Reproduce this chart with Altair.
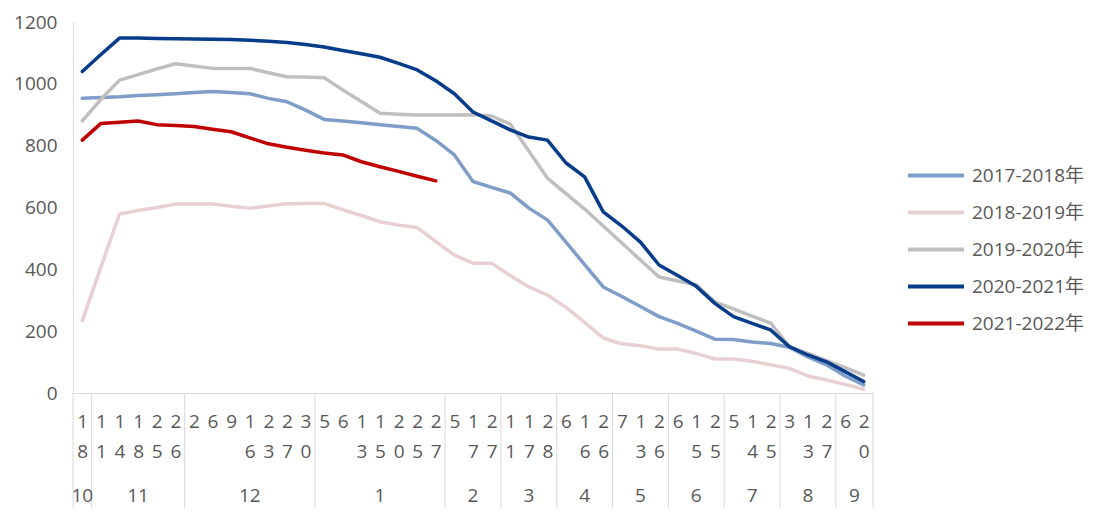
import json
import altair as alt
import pandas as pd

FONT = "Open Sans, Noto Sans CJK SC, sans-serif"
TXT = "#595959"
AXC = "#d9d9d9"

# category axis: month (lower row) and day (upper row) of each observation
cat_month = ["10",
             "11", "11", "11", "11", "11",
             "12", "12", "12", "12", "12", "12", "12",
             "1", "1", "1", "1", "1", "1", "1",
             "2", "2", "2",
             "3", "3", "3",
             "4", "4", "4",
             "5", "5", "5",
             "6", "6", "6",
             "7", "7", "7",
             "8", "8", "8",
             "9", "9"]
cat_day = ["18",
           "11", "14", "18", "25", "26",
           "2", "6", "9", "16", "23", "27", "30",
           "5", "6", "13", "15", "20", "25", "27",
           "5", "17", "27",
           "11", "17", "28",
           "6", "16", "26",
           "7", "13", "26",
           "6", "15", "25",
           "5", "14", "25",
           "3", "13", "27",
           "6", "20"]

series_names = ["2017-2018年", "2018-2019年", "2019-2020年", "2020-2021年", "2021-2022年"]
series_colors = ["#7f9dc8", "#e8d0d2", "#bfbfbf", "#063c8a", "#c00000"]

s_2017_2018 = [953, 956, 958, 962, 965, 968, 972, 975, 972, 968, 953, 942, 915, 885, 880,
               874, 868, 862, 856, 817, 770, 684, 665, 647, 598, 560, 488, 415, 343, 312,
               280, 247, 225, 200, 174, 173, 165, 160, 148, 117, 91, 55, 26]
s_2018_2019 = [234, 407, 579, 590, 600, 611, 611, 611, 604, 598, 605, 612, 613, 613, 593,
               574, 554, 543, 535, 490, 446, 420, 420, 380, 343, 317, 277, 228, 178, 159,
               153, 142, 142, 128, 110, 110, 103, 91, 80, 55, 42, 28, 12]
s_2019_2020 = [880, 950, 1012, 1030, 1048, 1065, 1058, 1050, 1050, 1050, 1036, 1023, 1022, 1020, 980,
               943, 905, 902, 899, 899, 899, 900, 896, 870, 783, 695, 645, 595, 540, 485,
               430, 375, 362, 350, 295, 272, 249, 226, 150, 128, 105, 82, 58]
s_2020_2021 = [1040, 1095, 1148, 1148, 1147, 1146, 1145, 1144, 1143, 1141, 1138, 1134, 1127, 1119, 1108,
               1097, 1086, 1066, 1045, 1010, 968, 909, 880, 851, 828, 818, 744, 699, 586, 540,
               488, 414, 380, 345, 290, 247, 225, 204, 150, 123, 101, 69, 37]
s_2021_2022 = [818, 872, 876, 880, 868, 865, 862, 853, 845, 825, 806, 795, 785, 776, 770,
               748, 732, 717, 701, 686]

y_ticks = [0, 200, 400, 600, 800, 1000, 1200]

series_values = [s_2017_2018, s_2018_2019, s_2019_2020, s_2020_2021, s_2021_2022]
n = len(cat_day)

rows = []
for name, vals in zip(series_names, series_values):
    for i, v in enumerate(vals):
        rows.append({"series": name, "pos": i + 0.5, "value": v, "idx": i})
df = pd.DataFrame(rows)

# month groups
month_rows = []
bounds = []
start = 0
for i in range(1, n + 1):
    if i == n or cat_month[i] != cat_month[start]:
        month_rows.append({"month": cat_month[start], "pos": (start + i) / 2})
        bounds.append(start)
        start = i
bounds.append(n)
month_df = pd.DataFrame(month_rows)
bound_df = pd.DataFrame({"pos": bounds})

xscale = alt.Scale(domain=[0, n], nice=False, zero=False)
label_expr = "split(" + json.dumps(cat_day) + "[floor(datum.value)], '')"
xaxis = alt.Axis(values=[i + 0.5 for i in range(n)], labelExpr=label_expr, ticks=False, grid=False,
                 domainColor=AXC, domainWidth=1, labelFontSize=19, labelColor=TXT, labelFont=FONT,
                 labelLineHeight=30, labelBaseline="top", labelAlign="center", labelAngle=0,
                 labelPadding=19, labelOverlap=False, labelFlush=False, title=None)
X = alt.X("pos:Q", scale=xscale, axis=xaxis)

lines = alt.Chart(df).mark_line(strokeWidth=3.5, strokeJoin="round", strokeCap="round").encode(
    x=X,
    y=alt.Y("value:Q", scale=alt.Scale(domain=[0, 1200], nice=False),
            axis=alt.Axis(values=y_ticks, format="d", grid=False, ticks=False, domainColor=AXC,
                          domainWidth=1, labelFontSize=19, labelColor=TXT, labelFont=FONT,
                          labelPadding=16, title=None)),
    color=alt.Color("series:N", scale=alt.Scale(domain=series_names, range=series_colors),
                    legend=alt.Legend(orient="none", legendX=833, legendY=144, title=None,
                                      symbolType="stroke", symbolSize=3136, symbolStrokeWidth=4,
                                      labelFontSize=19, labelColor=TXT, labelFont=FONT,
                                      labelOffset=6, rowPadding=17, clipHeight=19, padding=0)),
    order="idx:Q",
)

seps = alt.Chart(bound_df).mark_rule(color=AXC, strokeWidth=1).encode(
    x=X, y=alt.value(371), y2=alt.value(500)
)

month_text = alt.Chart(month_df).mark_text(fontSize=19, color=TXT, font=FONT, baseline="middle").encode(
    x=X, y=alt.value(474), text="month:N"
)

chart = alt.layer(seps, lines, month_text).properties(
    width=800, height=371,
    padding={"left": 65, "top": 14, "right": 215, "bottom": 115},
    autosize=alt.AutoSizeParams(type="none"),
).configure_view(stroke=None)

chart.save("out.html", embed_options={"renderer": "svg", "actions": False})
